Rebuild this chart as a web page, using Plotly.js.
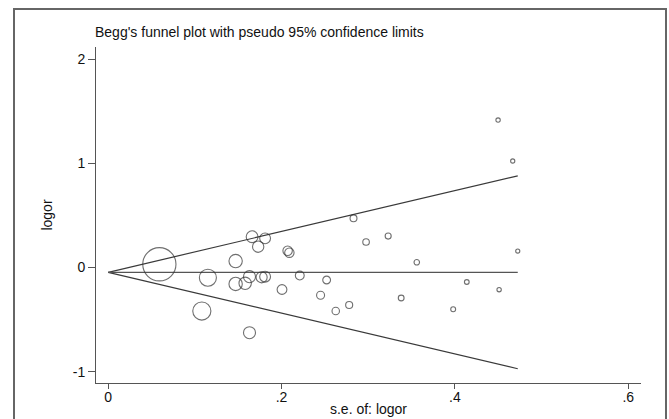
<!DOCTYPE html>
<html>
<head>
<meta charset="utf-8">
<script src="https://cdn.plot.ly/plotly-3.0.1.min.js"></script>
<style>
  html, body { margin: 0; padding: 0; background: #fff; }
  #chart { width: 669px; height: 419px; }
</style>
</head>
<body>
<div id="chart"></div>
<script>
// Standard error of log OR for each study
const se = [0.059, 0.115, 0.108, 0.166, 0.181, 0.173, 0.207, 0.209, 0.147, 0.163,
            0.147, 0.158, 0.177, 0.181, 0.221, 0.252, 0.2005, 0.245, 0.163, 0.283,
            0.2975, 0.323, 0.356, 0.4725, 0.4137, 0.451, 0.398, 0.278, 0.2625, 0.338,
            0.4498, 0.4667];
// log odds ratio for each study
const logor = [0.031, -0.098, -0.418, 0.296, 0.280, 0.200, 0.161, 0.142, 0.062, -0.088,
               -0.158, -0.152, -0.094, -0.088, -0.077, -0.120, -0.211, -0.267, -0.626, 0.472,
               0.245, 0.302, 0.050, 0.158, -0.139, -0.213, -0.401, -0.360, -0.418, -0.293,
               1.416, 1.023];
// pooled estimate
const pooled = -0.046;
const xTickVals = [0, 0.2, 0.4, 0.6];
const xTickText = ["0", ".2", ".4", ".6"];
const yTickVals = [-1, 0, 1, 2];
const yTickText = ["-1", "0", "1", "2"];

const maxSe = Math.max(...se);
const z = 1.96;
const lineColor = "#3a3a3a";

const traces = [
  { x: [0, maxSe], y: [pooled, pooled + z * maxSe], mode: "lines", line: { color: lineColor, width: 1.2 }, hoverinfo: "skip" },
  { x: [0, maxSe], y: [pooled, pooled - z * maxSe], mode: "lines", line: { color: lineColor, width: 1.2 }, hoverinfo: "skip" },
  { x: [0, maxSe], y: [pooled, pooled], mode: "lines", line: { color: "#555", width: 1.2 }, hoverinfo: "skip" },
  {
    x: se, y: logor, mode: "markers",
    marker: {
      size: se.map(s => 1.96 / s),
      color: "rgba(0,0,0,0)",
      line: { color: "#333", width: 1.1 }
    }
  }
];

const font = { family: "Liberation Sans, Arial, sans-serif", color: "#111" };

const layout = {
  width: 669, height: 419,
  margin: { l: 96, r: 28, t: 47, b: 36, pad: 0 },
  paper_bgcolor: "#fff", plot_bgcolor: "#fff",
  showlegend: false,
  font: font,
  title: {
    text: "Begg's funnel plot with pseudo 95% confidence limits",
    font: { family: font.family, size: 14, color: "#111" },
    xref: "container", yref: "container",
    x: 95 / 669, xanchor: "left",
    y: 1 - 32 / 419, yanchor: "middle"
  },
  xaxis: {
    range: [-0.0141, 0.6147],
    tickvals: xTickVals, ticktext: xTickText,
    ticks: "outside", ticklen: 5, tickwidth: 1, tickcolor: "#555",
    ticklabelstandoff: -4,
    showline: true, linecolor: "#555", linewidth: 1,
    showgrid: false, zeroline: false,
    tickfont: { family: font.family, size: 14, color: "#111" },
    title: { text: "s.e. of: logor", font: { family: font.family, size: 14, color: "#111" }, standoff: 0 }
  },
  yaxis: {
    range: [-1.109, 2.1175],
    tickvals: yTickVals, ticktext: yTickText,
    ticks: "outside", ticklen: 7, tickwidth: 1, tickcolor: "#555",
    showline: true, linecolor: "#555", linewidth: 1,
    showgrid: false, zeroline: false,
    tickfont: { family: font.family, size: 14, color: "#111" },
    title: { text: "logor", font: { family: font.family, size: 14, color: "#111" }, standoff: 16 }
  },
  shapes: [
    {
      type: "rect", xref: "paper", yref: "paper",
      x0: (14 - 96) / 545, x1: (666 - 96) / 545,
      y0: (383 - 430) / 336, y1: (383 - 9) / 336,
      line: { color: "#666", width: 2 }, fillcolor: "rgba(0,0,0,0)", layer: "below"
    }
  ]
};

Plotly.newPlot("chart", traces, layout, { staticPlot: true, displayModeBar: false });
</script>
</body>
</html>
